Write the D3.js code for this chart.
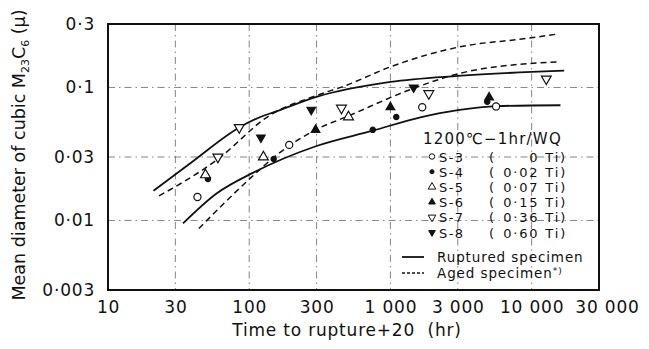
<!DOCTYPE html>
<html>
<head>
<meta charset="utf-8">
<script src="https://cdn.jsdelivr.net/npm/d3@7"></script>
<style>
  body { margin: 0; background: #fff; }
  text { font-family: "DejaVu Sans", sans-serif; fill: #111; }
</style>
</head>
<body>
<svg id="chart" width="649" height="349"></svg>
<script>
// tick values and labels
const xTicks = [10, 30, 100, 300, 1000, 3000, 10000, 30000];
const xTickLabels = ["10", "30", "100", "300", "1 000", "3 000", "10 000", "30 000"];
const yTicks = [0.003, 0.01, 0.03, 0.1, 0.3];
const yTickLabels = ["0·003", "0·01", "0·03", "0·1", "0·3"];
const gridX = [30, 100, 300, 1000, 3000, 10000];
const gridY = [0.01, 0.03, 0.1];

// specimens: [time to rupture + 20 (hr), mean diameter (μ)]
const specimenNames = ["S-3", "S-4", "S-5", "S-6", "S-7", "S-8"];
const specimenTi = ["0", "0·02", "0·07", "0·15", "0·36", "0·60"];
const s3 = [[43, 0.015], [192, 0.037], [1680, 0.071], [5600, 0.072]];
const s4 = [[51, 0.0205], [149, 0.029], [750, 0.048], [1100, 0.060], [4850, 0.078]];
const s5 = [[49, 0.022], [126, 0.030], [505, 0.060]];
const s6 = [[295, 0.048], [1000, 0.071], [5000, 0.084]];
const s7 = [[60, 0.030], [85, 0.050], [450, 0.070], [1870, 0.090], [12700, 0.116]];
const s8 = [[121, 0.042], [275, 0.068], [1460, 0.100]];

// trend curves
const rupturedUpper = [[21, 0.0167], [40, 0.0279], [85, 0.050], [120, 0.060], [150, 0.0652], [300, 0.085], [1000, 0.110], [3000, 0.122], [10000, 0.131], [17000, 0.134]];
const rupturedLower = [[34, 0.0095], [59, 0.016], [107, 0.0229], [300, 0.0363], [750, 0.0473], [1630, 0.0596], [3000, 0.0676], [5700, 0.0725], [16000, 0.0735]];
const agedUpper = [[23, 0.0153], [59, 0.0285], [141, 0.0621], [300, 0.087], [490, 0.104], [1000, 0.143], [3100, 0.202], [9300, 0.234], [14800, 0.251]];
const agedLower = [[44, 0.0087], [102, 0.0208], [157, 0.0311], [294, 0.0479], [490, 0.0603], [1460, 0.0985], [3100, 0.1277], [9300, 0.151], [16000, 0.156]];

const svg = d3.select("#chart");
const plotLeft = 108, plotRight = 599, plotTop = 24, plotBottom = 290;

const x = d3.scaleLog().domain([10, 30000]).range([plotLeft, plotRight]);
const y = d3.scaleLog().domain([0.003, 0.3]).range([plotBottom, plotTop]);

// dash-dot grid
const grid = svg.append("g")
  .attr("stroke", "#666")
  .attr("stroke-width", 0.8)
  .attr("stroke-dasharray", "7,4,1.5,4");
grid.selectAll("line.gx").data(gridX).join("line")
  .attr("x1", d => x(d)).attr("x2", d => x(d))
  .attr("y1", plotTop).attr("y2", plotBottom);
grid.selectAll("line.gy").data(gridY).join("line")
  .attr("x1", plotLeft).attr("x2", plotRight)
  .attr("y1", d => y(d)).attr("y2", d => y(d));

// tick labels through axes
const xAxis = d3.axisBottom(x).tickValues(xTicks).tickSize(0)
  .tickFormat((d, i) => xTickLabels[i]);
svg.append("g").attr("transform", `translate(0,${plotBottom})`).call(xAxis)
  .call(g => g.select(".domain").remove())
  .selectAll("text")
  .attr("dy", "0.95em").attr("y", 7)
  .attr("dx", d => d === 30000 ? 8 : 0)
  .attr("font-size", 17).attr("letter-spacing", 0.8)
  .style("font-family", '"DejaVu Sans", sans-serif').attr("fill", "#111");

const yAxis = d3.axisLeft(y).tickValues(yTicks).tickSize(0)
  .tickFormat((d, i) => yTickLabels[i]);
svg.append("g").attr("transform", `translate(${plotLeft},0)`).call(yAxis)
  .call(g => g.select(".domain").remove())
  .selectAll("text")
  .attr("x", -13)
  .attr("font-size", 17).attr("letter-spacing", 0.8)
  .style("font-family", '"DejaVu Sans", sans-serif').attr("fill", "#111");

// curves
const line = d3.line().x(d => x(d[0])).y(d => y(d[1])).curve(d3.curveMonotoneX);
const curves = svg.append("g").attr("fill", "none").attr("stroke", "#111");
curves.append("path").datum(rupturedUpper).attr("d", line).attr("stroke-width", 1.8);
curves.append("path").datum(rupturedLower).attr("d", line).attr("stroke-width", 1.8);
curves.append("path").datum(agedUpper).attr("d", line).attr("stroke-width", 1.5).attr("stroke-dasharray", "6,4");
curves.append("path").datum(agedLower).attr("d", line).attr("stroke-width", 1.5).attr("stroke-dasharray", "6,4");

// markers
const markerDefs = [
  { data: s3, type: d3.symbolCircle, size: 40, fill: "#fff", rot: 0 },
  { data: s4, type: d3.symbolCircle, size: 22, fill: "#111", rot: 0 },
  { data: s5, type: d3.symbolTriangle, size: 42, fill: "#fff", rot: 0 },
  { data: s6, type: d3.symbolTriangle, size: 32, fill: "#111", rot: 0 },
  { data: s7, type: d3.symbolTriangle, size: 42, fill: "#fff", rot: 180 },
  { data: s8, type: d3.symbolTriangle, size: 32, fill: "#111", rot: 180 }
];
const marks = svg.append("g");
markerDefs.forEach(m => {
  marks.selectAll(null).data(m.data).join("path")
    .attr("d", d3.symbol().type(m.type).size(m.size))
    .attr("transform", d => `translate(${x(d[0])},${y(d[1])}) rotate(${m.rot})`)
    .attr("fill", m.fill).attr("stroke", "#111").attr("stroke-width", 1.2);
});

// frame
svg.append("rect")
  .attr("x", plotLeft).attr("y", plotTop)
  .attr("width", plotRight - plotLeft).attr("height", plotBottom - plotTop)
  .attr("fill", "none").attr("stroke", "#111").attr("stroke-width", 2);

// legend
const lg = svg.append("g");
lg.append("text").attr("x", 423).attr("y", 144).attr("font-size", 15)
  .attr("letter-spacing", 1.2).text("1200℃−1hr/WQ");
markerDefs.forEach((m, i) => {
  const yy = 156.5 + i * 15.2;
  lg.append("path")
    .attr("d", d3.symbol().type(m.type).size(m.size * 0.6))
    .attr("transform", `translate(432,${yy}) rotate(${m.rot})`)
    .attr("fill", m.fill).attr("stroke", "#111").attr("stroke-width", 1);
  const row = lg.append("text").attr("y", yy + 5).attr("font-size", 13);
  row.append("tspan").attr("x", 439).attr("letter-spacing", 1.4).text(specimenNames[i]);
  row.append("tspan").attr("x", 489).text("(");
  const val = row.append("tspan").attr("letter-spacing", 1.8).text(specimenTi[i] + " Ti)");
  val.attr("x", 567 - val.node().getComputedTextLength());
});
lg.append("line").attr("x1", 402).attr("x2", 424).attr("y1", 257).attr("y2", 257)
  .attr("stroke", "#111").attr("stroke-width", 1.8);
lg.append("line").attr("x1", 402).attr("x2", 424).attr("y1", 273).attr("y2", 273)
  .attr("stroke", "#111").attr("stroke-width", 1.3).attr("stroke-dasharray", "3,2");
lg.append("text").attr("x", 437).attr("y", 262).attr("font-size", 13.5)
  .attr("letter-spacing", 0.9).text("Ruptured specimen");
const aged = lg.append("text").attr("x", 437).attr("y", 278).attr("font-size", 13.5)
  .attr("letter-spacing", 0.9);
aged.append("tspan").text("Aged specimen");
aged.append("tspan").attr("font-size", 9).attr("dy", -4).text("*)");

// axis titles
svg.append("text").attr("x", 347).attr("y", 336).attr("font-size", 17)
  .attr("text-anchor", "middle").attr("letter-spacing", 0.8)
  .attr("xml:space", "preserve").text("Time to rupture+20  (hr)");

const yt = svg.append("text")
  .attr("transform", "translate(25,155) rotate(-90)")
  .attr("text-anchor", "middle").attr("font-size", 17.5);
yt.append("tspan").text("Mean diameter of cubic M");
yt.append("tspan").attr("font-size", 11).attr("dy", 4).text("23");
yt.append("tspan").attr("dy", -4).text("C");
yt.append("tspan").attr("font-size", 11).attr("dy", 4).text("6");
yt.append("tspan").attr("dy", -4).text(" (μ)");
</script>
</body>
</html>
